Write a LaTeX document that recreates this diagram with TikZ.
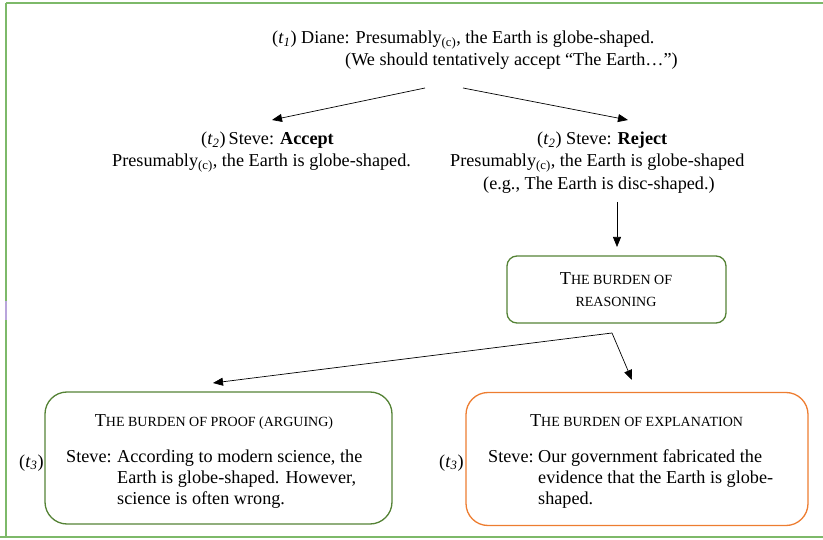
\documentclass[tikz,border=0pt]{standalone}
\usepackage{fontspec}
\setmainfont{Liberation Serif}
\usetikzlibrary{arrows.meta}
\definecolor{boxgreen}{RGB}{84,130,53}
\definecolor{boxorange}{RGB}{237,125,49}
\definecolor{framegreen}{RGB}{125,185,105}
\definecolor{markpurple}{RGB}{185,165,220}
% fake small capitals: smaller upper-case letters
\newcommand\fsc[1]{{\fontsize{14}{16}\selectfont #1}}
\newcommand\tstep[1]{(\textit{t}\textsubscript{\textit{#1}})}
\newcommand\ccl{\textsubscript{(c)}}
\begin{document}
\begin{tikzpicture}[x=1pt,y=-1pt,
  every node/.style={inner sep=0pt, font=\fontsize{18.2}{21.5}\selectfont},
  lefttxt/.style={anchor=base west},
  midtxt/.style={anchor=base},
  arr/.style={-{Triangle[length=10pt,width=8pt]}, line width=0.7pt, black},
  burdenbox/.style={draw=boxgreen, line width=1.3pt, rounded corners=#1},
  burdenbox/.default=10pt,
  explbox/.style={draw=boxorange, line width=1.3pt, rounded corners=22pt},
  frameline/.style={draw=framegreen, line width=1.5pt}
]
\useasboundingbox (0,0) rectangle (823,540);

% page frame
\draw[frameline, line width=2.2pt] (6,537) -- (6,3);
\draw[frameline] (6,3) -- (823,3);
\draw[frameline] (0,537) -- (823,537);
\draw[markpurple, line width=2pt] (6,301) -- (6,320);

% t1
\node[lefttxt] (diane) at (272,44) {\tstep{1} Diane: Presumably\ccl, the Earth is globe-shaped.};
\node[lefttxt] (diane2) at (345,66) {(We should tentatively accept “The Earth…”)};

% t2
\node[lefttxt] (acc1) at (201,145) {\tstep{2}\,Steve: \textbf{Accept}};
\node[lefttxt] (acc2) at (112,167) {Presumably\ccl, the Earth is globe-shaped.};
\node[lefttxt] (rej1) at (537,145) {\tstep{2} Steve: \textbf{Reject}};
\node[lefttxt] (rej2) at (450,167) {Presumably\ccl, the Earth is globe-shaped};
\node[lefttxt] (rej3) at (483,190) {(e.g., The Earth is disc-shaped.)};

% connectors from t1
\coordinate (fromL) at (425,88);
\coordinate (fromR) at (463,88);
\coordinate (toAcc) at (272,120);
\coordinate (toRej) at (628,120);
\draw[arr] (fromL) -- (toAcc);
\draw[arr] (fromR) -- (toRej);

% burden of reasoning
\node[burdenbox, minimum width=219pt, minimum height=67pt] (reason) at (616.5,289.5) {};
\node[midtxt] (reasonA) at (616,285) {T\fsc{HE BURDEN OF}};
\node[midtxt] (reasonB) at (616,307) {\fsc{REASONING}};
\coordinate (rejBot) at (617,202);
\coordinate (toReason) at (617,247);
\draw[arr] (rejBot) -- (toReason);

% fork below reasoning
\coordinate (fork) at (612,333);
\coordinate (toProof) at (213,383);
\coordinate (toExpl) at (632,380);
\draw[arr] (fork) -- (toProof);
\draw[arr] (fork) -- (toExpl);

% burden of proof
\node[burdenbox=22pt, minimum width=347pt, minimum height=132pt] (proof) at (218.5,458) {};
\node[midtxt] (proofT) at (214,426) {T\fsc{HE BURDEN OF PROOF (ARGUING)}};
\node[lefttxt] (proofS) at (66,462) {Steve:};
\node[lefttxt] (proof1) at (117,462) {According to modern science, the};
\node[lefttxt] (proof2) at (117,483) {Earth is globe-shaped. However,};
\node[lefttxt] (proof3) at (117,504) {science is often wrong.};
\node[lefttxt] (t3a) at (19,467) {\tstep{3}};

% burden of explanation
\node[explbox, minimum width=342pt, minimum height=133pt] (expl) at (637,459) {};
\node[midtxt] (explT) at (636.5,426) {T\fsc{HE BURDEN OF EXPLANATION}};
\node[lefttxt] (explS) at (488,462) {Steve:};
\node[lefttxt] (expl1) at (538,462) {Our government fabricated the};
\node[lefttxt] (expl2) at (538,483) {evidence that the Earth is globe-};
\node[lefttxt] (expl3) at (538,504) {shaped.};
\node[lefttxt] (t3b) at (439,467) {\tstep{3}};
\end{tikzpicture}
\end{document}
